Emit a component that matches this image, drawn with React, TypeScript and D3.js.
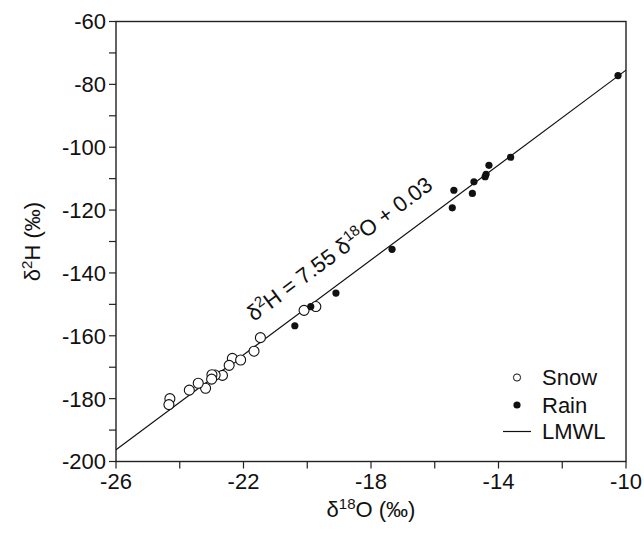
import React from "react";
import * as d3 from "d3";

const snowX = [-21.47, -21.67, -22.35, -22.09, -22.45, -22.66, -22.89, -22.99, -23.0, -23.19, -23.42, -23.70, -24.31, -24.34, -20.10, -19.73];
const snowY = [-160.6, -164.9, -167.2, -167.7, -169.4, -172.6, -172.5, -172.4, -173.8, -176.7, -175.1, -177.3, -180.0, -181.9, -151.9, -150.7];
const rainX = [-10.25, -13.62, -14.30, -14.39, -14.42, -14.77, -15.40, -14.82, -15.45, -17.34, -19.10, -19.89, -20.39];
const rainY = [-77.2, -103.2, -105.75, -108.6, -109.4, -111.0, -113.7, -114.7, -119.3, -132.5, -146.4, -150.7, -156.8];
const xTicks = [-26, -22, -18, -14, -10];
const xMinor = [-24, -20, -16, -12];
const yTicks = [-60, -80, -100, -120, -140, -160, -180, -200];
const yMinor = [-70, -90, -110, -130, -150, -170, -190];
const slope = 7.55;
const intercept = 0.03;

const W = 644, H = 535;
const L = 116, R = 626, T = 21.5, B = 461.5;
const FONT = "Arial, 'Liberation Sans', sans-serif";

export default function App() {
  const x = d3.scaleLinear().domain([-26, -10]).range([L, R]);
  const y = d3.scaleLinear().domain([-200, -60]).range([B, T]);
  const line = d3.line<number>().x((d) => x(d)).y((d) => y(slope * d + intercept));
  const angle = (Math.atan2(y(slope * -10) - y(slope * -26), x(-10) - x(-26)) * 180) / Math.PI;

  return (
    <svg width={W} height={H} style={{ position: "absolute", left: 0, top: 0, background: "#fff" }} fontFamily={FONT}>
      <rect x={0} y={0} width={W} height={H} fill="#fff" />
      <defs>
        <clipPath id="plot">
          <rect x={L} y={T} width={R - L} height={B - T} />
        </clipPath>
      </defs>
      {/* frame */}
      <rect x={L} y={T} width={R - L} height={B - T} fill="none" stroke="#222" strokeWidth={1.4} />
      {/* y ticks */}
      {yTicks.map((t) => (
        <g key={"y" + t}>
          <line x1={L - 7} x2={L} y1={y(t)} y2={y(t)} stroke="#222" strokeWidth={1.2} />
          <text x={L - 10} y={y(t)} dy="0.36em" textAnchor="end" fontSize={22} fill="#111">{t}</text>
        </g>
      ))}
      {yMinor.map((t) => (
        <line key={"ym" + t} x1={L - 7} x2={L} y1={y(t)} y2={y(t)} stroke="#222" strokeWidth={1.2} />
      ))}
      {/* x ticks */}
      {xTicks.map((t) => (
        <g key={"x" + t}>
          <line x1={x(t)} x2={x(t)} y1={B} y2={B + 7} stroke="#222" strokeWidth={1.2} />
          <text x={x(t)} y={B + 27} textAnchor="middle" fontSize={22} fill="#111">{t}</text>
        </g>
      ))}
      {xMinor.map((t) => (
        <line key={"xm" + t} x1={x(t)} x2={x(t)} y1={B} y2={B + 7} stroke="#222" strokeWidth={1.2} />
      ))}
      {/* axis titles */}
      <text x={(L + R) / 2} y={517} textAnchor="middle" fontSize={22} fill="#111">
        δ<tspan fontSize={15} dy={-8}>18</tspan><tspan dy={8}>O (‰)</tspan>
      </text>
      <text transform={`translate(40, ${(T + B) / 2}) rotate(-90)`} textAnchor="middle" fontSize={22} fill="#111">
        δ<tspan fontSize={15} dy={-8}>2</tspan><tspan dy={8}>H (‰)</tspan>
      </text>
      {/* LMWL */}
      <path d={line([-26, -10]) || ""} fill="none" stroke="#111" strokeWidth={1.2} clipPath="url(#plot)" />
      {/* equation */}
      <text transform={`translate(254, 322) rotate(${angle})`} fontSize={22} fill="#111">
        δ<tspan fontSize={15} dy={-8}>2</tspan><tspan dy={8}>H = 7.55 δ</tspan><tspan fontSize={15} dy={-8}>18</tspan><tspan dy={8}>O + 0.03</tspan>
      </text>
      {/* snow */}
      {snowX.map((v, i) => (
        <circle key={"s" + i} cx={x(v)} cy={y(snowY[i])} r={5} fill="#fff" stroke="#111" strokeWidth={1.1} />
      ))}
      {/* rain */}
      {rainX.map((v, i) => (
        <circle key={"r" + i} cx={x(v)} cy={y(rainY[i])} r={3.6} fill="#111" />
      ))}
      {/* legend */}
      <circle cx={517} cy={377.5} r={3.6} fill="#fff" stroke="#111" strokeWidth={1} />
      <text x={542} y={377.5} dy="0.36em" fontSize={22} fill="#111">Snow</text>
      <circle cx={517} cy={405} r={3.6} fill="#111" />
      <text x={542} y={405} dy="0.36em" fontSize={22} fill="#111">Rain</text>
      <line x1={503} x2={531} y1={431.5} y2={431.5} stroke="#111" strokeWidth={1.2} />
      <text x={542} y={431.5} dy="0.36em" fontSize={22} fill="#111">LMWL</text>
    </svg>
  );
}
